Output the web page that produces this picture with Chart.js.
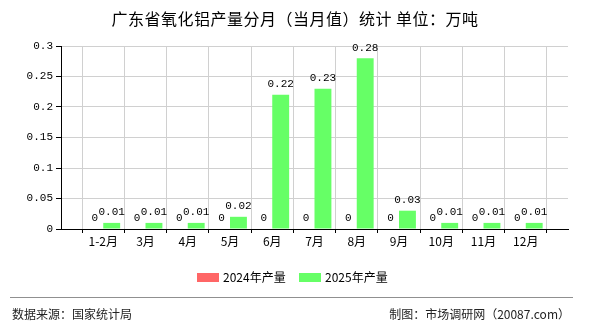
<!DOCTYPE html>
<html>
<head>
<meta charset="utf-8">
<script src="https://cdn.jsdelivr.net/npm/chart.js@4/dist/chart.umd.min.js"></script>
<style>
  body { margin: 0; background: #fff; }
  #wrap { position: relative; width: 590px; height: 330px; overflow: hidden; font-family: "Noto Sans CJK SC", sans-serif; color: #000; }
  #chart { position: absolute; left: 0; top: 0; }
  .title { position: absolute; left: 0; top: 7px; width: 590px; text-align: center; font-size: 16px; line-height: 22px; letter-spacing: 0.5px; }
  .legend-item { position: absolute; top: 268px; font-size: 12px; line-height: 18px; display: flex; align-items: center; }
  .legend-box { width: 22px; height: 9px; margin-right: 4px; }
  .rule { position: absolute; left: 10px; top: 297px; width: 563px; height: 1px; background: #909090; }
  .foot { position: absolute; top: 305px; font-size: 12px; line-height: 18px; color: #222; }
</style>
</head>
<body>
<div id="wrap">
  <canvas id="chart" width="590" height="330"></canvas>
  <div class="title">广东省氧化铝产量分月（当月值）统计 单位：万吨</div>
  <div class="legend-item" style="left:197px"><span class="legend-box" style="background:#ff6666"></span>2024年产量</div>
  <div class="legend-item" style="left:299px"><span class="legend-box" style="background:#66ff66"></span>2025年产量</div>
  <div class="rule"></div>
  <div class="foot" style="left:12px">数据来源：国家统计局</div>
  <div class="foot" style="right:20px">制图：市场调研网（20087.com）</div>
</div>
<script>
(function () {
  'use strict';

  // ── Data ──
  const months = ['1-2月', '3月', '4月', '5月', '6月', '7月', '8月', '9月', '10月', '11月', '12月'];
  const output2024 = [0, 0, 0, 0, 0, 0, 0, 0, 0, 0, 0];
  const output2025 = [0.01, 0.01, 0.01, 0.02, 0.22, 0.23, 0.28, 0.03, 0.01, 0.01, 0.01];
  const yTicks = [0, 0.05, 0.1, 0.15, 0.2, 0.25, 0.3];
  const yTickLabels = ['0', '0.05', '0.1', '0.15', '0.2', '0.25', '0.3'];

  // blank slot at each end, the axis runs one step past the first and last month
  const labels = [''].concat(months, ['']);
  const pad = function (arr) { return [null].concat(arr, [null]); };

  const numFont = { family: 'Liberation Mono', size: 11 };
  const catFont = { family: 'Noto Sans CJK SC', size: 12 };

  // value labels above every bar
  const valueLabels = {
    id: 'valueLabels',
    afterDatasetsDraw: function (chart) {
      const ctx = chart.ctx;
      ctx.save();
      ctx.font = numFont.size + 'px ' + numFont.family;
      ctx.fillStyle = '#000';
      ctx.textAlign = 'center';
      ctx.textBaseline = 'bottom';
      chart.data.datasets.forEach(function (ds, i) {
        chart.getDatasetMeta(i).data.forEach(function (bar, j) {
          const v = ds.data[j];
          if (v === null) return;
          ctx.fillText(String(v), bar.x, bar.y - 5);
        });
      });
      ctx.restore();
    }
  };

  new Chart(document.getElementById('chart'), {
    type: 'bar',
    data: {
      labels: labels,
      datasets: [
        { label: '2024年产量', data: pad(output2024), backgroundColor: '#ff6666' },
        { label: '2025年产量', data: pad(output2025), backgroundColor: '#66ff66' }
      ]
    },
    options: {
      responsive: false,
      animation: false,
      events: [],
      datasets: { bar: { categoryPercentage: 0.8, barPercentage: 1 } },
      layout: { padding: { left: 0, right: 22, top: 46, bottom: 81 } },
      plugins: {
        legend: { display: false },
        title: { display: false },
        tooltip: { enabled: false }
      },
      scales: {
        x: {
          offset: false,
          grid: { color: '#d0d0d0', tickColor: '#000', tickLength: 4, drawOnChartArea: true },
          border: { color: '#000' },
          ticks: { font: catFont, color: '#000', padding: 1, maxRotation: 0, autoSkip: false },
          afterFit: function (s) { s.height = 20; }
        },
        y: {
          min: 0,
          max: 0.3,
          grid: { color: '#d0d0d0', tickColor: '#000', tickLength: 5 },
          border: { color: '#000' },
          ticks: {
            font: numFont,
            color: '#000',
            padding: 3,
            callback: function (v, i) { return yTickLabels[i]; }
          },
          afterBuildTicks: function (s) {
            s.ticks = yTicks.map(function (v) { return { value: v }; });
          },
          afterFit: function (s) { s.width = 61; }
        }
      }
    },
    plugins: [valueLabels]
  });
})();
</script>
</body>
</html>
